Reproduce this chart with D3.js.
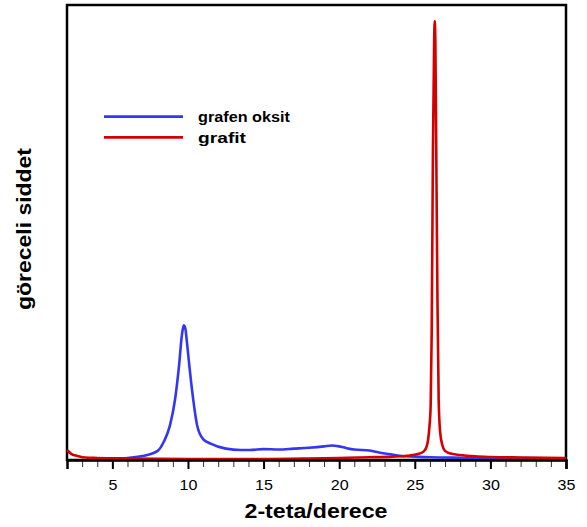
<!DOCTYPE html>
<html>
<head>
<meta charset="utf-8">
<script src="https://cdn.jsdelivr.net/npm/d3@7"></script>
<style>
body { margin: 0; background: #fff; }
text { font-family: "Liberation Sans", Arial, sans-serif; }
</style>
</head>
<body>
<div id="chart"></div>
<script>
// seri adlari
var seriesNames = ["grafen oksit", "grafit"];
var seriesColors = ["#3535f5", "#d40000"];

// x ekseni etiketleri
var xTicks = [5, 10, 15, 20, 25, 30, 35];

// grafen oksit: [2-teta, goreceli siddet]
var grafenOksit = [
    [5.0, 0.33], [6.0, 0.45], [6.8, 0.77], [7.3, 1.1], [8.0, 2.0], [8.4, 4.0],
    [8.8, 7.5], [9.14, 13.2], [9.4, 20.4], [9.6, 27.5], [9.72, 29.6], [9.82, 29.0],
    [9.95, 25.3], [10.1, 20.4], [10.35, 13.2], [10.6, 7.7], [11.0, 4.6], [11.5, 3.6],
    [12.5, 2.5], [13.5, 2.2], [14.1, 2.2], [15.0, 2.4], [16.0, 2.3], [17.0, 2.5],
    [18.0, 2.7], [19.0, 3.0], [19.5, 3.2], [20.0, 3.0], [20.5, 2.6], [21.0, 2.3],
    [22.0, 2.1], [22.7, 1.6], [23.5, 1.2], [24.0, 0.95], [25.0, 0.75], [26.0, 0.6],
    [28.0, 0.5], [30.0, 0.45], [35.0, 0.35]
];

// grafit: [2-teta, goreceli siddet]
var grafit = [
    [2.0, 2.2], [2.3, 1.3], [2.7, 0.9], [3.2, 0.55], [4.0, 0.45], [6.0, 0.33],
    [10.0, 0.22], [15.0, 0.22], [18.0, 0.33], [20.0, 0.45], [22.0, 0.6], [23.5, 0.75],
    [24.5, 0.95], [25.2, 1.3], [25.6, 1.9], [25.8, 3.1], [25.95, 6.6], [26.05, 12.0],
    [26.12, 28.6], [26.2, 68.0], [26.28, 92.0], [26.32, 96.5], [26.36, 92.0],
    [26.42, 68.0], [26.5, 35.0], [26.58, 13.0], [26.68, 6.0], [26.82, 3.3],
    [27.0, 2.0], [27.3, 1.5], [28.0, 1.1], [29.0, 0.8], [30.0, 0.66], [32.0, 0.55],
    [35.0, 0.45]
];

var width = 587, height = 527;
var mLeft = 67, mRight = 566, mTop = 5, mBottom = 460;

var svg = d3.select("#chart")
    .append("svg")
    .attr("width", width)
    .attr("height", height);

var xScale = d3.scaleLinear()
    .domain([2, 35])
    .range([mLeft, mRight]);

var yScale = d3.scaleLinear()
    .domain([0, 100])
    .range([mBottom, mTop]);

// cerceve
svg.append("rect")
    .attr("x", mLeft)
    .attr("y", mTop)
    .attr("width", mRight - mLeft)
    .attr("height", mBottom - mTop)
    .attr("fill", "none")
    .attr("stroke", "#000")
    .attr("stroke-width", 2.5);

// egriler
var line = d3.line()
    .x(function(d) { return xScale(d[0]); })
    .y(function(d) { return yScale(d[1]); })
    .curve(d3.curveMonotoneX);

[grafenOksit, grafit].forEach(function(data, i) {
    svg.append("path")
        .datum(data)
        .attr("d", line)
        .attr("fill", "none")
        .attr("stroke", seriesColors[i])
        .attr("stroke-width", 2.6)
        .attr("stroke-linejoin", "round");
});

// alt eksen: kucuk ve buyuk tikler
var minorAxis = d3.axisBottom(xScale)
    .tickValues(d3.range(2, 36, 1))
    .tickSize(7)
    .tickFormat("");
svg.append("g")
    .attr("transform", "translate(0," + mBottom + ")")
    .call(minorAxis)
    .call(function(g) {
        g.select(".domain").remove();
        g.selectAll("line").attr("stroke", "#333").attr("stroke-width", 1);
    });

var xAxis = d3.axisBottom(xScale)
    .tickValues(xTicks)
    .tickSize(9)
    .tickPadding(11);
svg.append("g")
    .attr("transform", "translate(0," + mBottom + ")")
    .call(xAxis)
    .call(function(g) {
        g.select(".domain").attr("stroke-width", 2.5);
        g.selectAll("line").attr("stroke-width", 2);
        g.selectAll("text")
            .attr("font-size", 14)
            .attr("fill", "#000")
            .attr("transform", "scale(1.15,1)")
            .attr("x", function() { return 0; })
            .style("font-family", "'Liberation Sans', Arial, sans-serif");
    });

// eksen basliklari
svg.append("text")
    .text("2-teta/derece")
    .attr("x", 316)
    .attr("y", 518)
    .attr("text-anchor", "middle")
    .attr("font-size", 19.5)
    .attr("font-weight", "bold")
    .attr("textLength", 143)
    .attr("lengthAdjust", "spacingAndGlyphs");

svg.append("text")
    .text("göreceli siddet")
    .attr("transform", "translate(31,229) rotate(-90)")
    .attr("text-anchor", "middle")
    .attr("font-size", 19.5)
    .attr("font-weight", "bold")
    .attr("textLength", 162)
    .attr("lengthAdjust", "spacingAndGlyphs");

// lejant
seriesNames.forEach(function(name, i) {
    var y = 116.7 + i * 20.6;
    svg.append("line")
        .attr("x1", 104).attr("x2", 183)
        .attr("y1", y).attr("y2", y)
        .attr("stroke", seriesColors[i])
        .attr("stroke-width", 2.8);
    svg.append("text")
        .text(name)
        .attr("x", 198)
        .attr("y", y + 5.5)
        .attr("font-size", 14.5)
        .attr("font-weight", "bold")
        .attr("textLength", name === "grafit" ? 48 : 92)
        .attr("lengthAdjust", "spacingAndGlyphs");
});
</script>
</body>
</html>
